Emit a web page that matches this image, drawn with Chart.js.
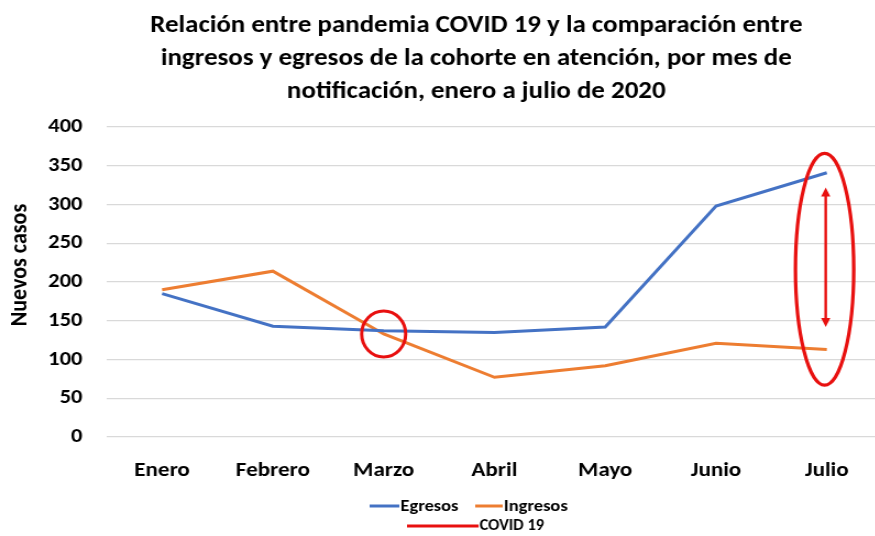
<!DOCTYPE html>
<html>
<head>
<meta charset="utf-8">
<script src="https://cdn.jsdelivr.net/npm/chart.js@4/dist/chart.umd.min.js"></script>
<style>
html,body{margin:0;padding:0;background:#fff;overflow:hidden;}
#wrap{position:relative;width:803px;height:536px;transform:scaleX(1.1);transform-origin:0 0;}
</style>
</head>
<body>
<div id="wrap"><canvas id="c" width="803" height="536"></canvas></div>
<script>
const categories = ['Enero','Febrero','Marzo','Abril','Mayo','Junio','Julio'];
const egresos = [185, 143, 137, 135, 142, 298, 341];
const ingresos = [190, 214, 133, 77, 92, 121, 113];
const seriesNames = ['Egresos','Ingresos','COVID 19'];
const yTicks = [0,50,100,150,200,250,300,350,400];
const titleLines = ['Relación entre pandemia COVID 19 y la comparación entre',
  'ingresos y egresos de la cohorte en atención, por mes de',
  'notificación, enero a julio de 2020'];
const yTitle = 'Nuevos casos';
// annotation anchors (category, value)
const circleMarch = {cat:'Marzo', value:133};
const ellipseJulio = {cat:'Julio', top:366, bottom:67};
const arrowJulio = {cat:'Julio', from:322, to:142};

const FONT = "Carlito, 'Liberation Sans', Arial, sans-serif";
const BLUE = '#4472C4', ORANGE = '#ED7D31', RED = '#E8100F';

const annot = {
  id:'annot',
  afterDatasetsDraw(chart){
    const ctx = chart.ctx, x = chart.scales.x, y = chart.scales.y;
    ctx.save();
    ctx.strokeStyle = RED; ctx.fillStyle = RED;
    // circle at Marzo
    ctx.lineWidth = 3;
    const cx = x.getPixelForValue(categories.indexOf(circleMarch.cat));
    const cy = y.getPixelForValue(circleMarch.value);
    ctx.beginPath(); ctx.ellipse(cx, cy, 20, 23, 0, 0, Math.PI*2); ctx.stroke();
    // ellipse at Julio
    const ex = x.getPixelForValue(categories.indexOf(ellipseJulio.cat)) - 2;
    const et = y.getPixelForValue(ellipseJulio.top), eb = y.getPixelForValue(ellipseJulio.bottom);
    ctx.lineWidth = 3.2;
    ctx.beginPath(); ctx.ellipse(ex, (et+eb)/2, 26.5, (eb-et)/2, 0, 0, Math.PI*2); ctx.stroke();
    // double arrow
    const ax = x.getPixelForValue(categories.indexOf(arrowJulio.cat)) - 1;
    const a1 = y.getPixelForValue(arrowJulio.from), a2 = y.getPixelForValue(arrowJulio.to);
    ctx.lineWidth = 2.4;
    ctx.beginPath(); ctx.moveTo(ax, a1+6); ctx.lineTo(ax, a2-6); ctx.stroke();
    ctx.beginPath(); ctx.moveTo(ax, a1); ctx.lineTo(ax-4.2, a1+9); ctx.lineTo(ax+4.2, a1+9); ctx.closePath(); ctx.fill();
    ctx.beginPath(); ctx.moveTo(ax, a2); ctx.lineTo(ax-4.2, a2-9); ctx.lineTo(ax+4.2, a2-9); ctx.closePath(); ctx.fill();
    ctx.restore();
  },
  afterDraw(chart){
    const ctx = chart.ctx;
    ctx.save();
    // title
    ctx.fillStyle = '#000';
    ctx.font = 'bold 24.5px ' + FONT;
    ctx.textAlign = 'center'; ctx.textBaseline = 'alphabetic';
    titleLines.forEach((t,i)=> ctx.fillText(t, 433, 32 + i*33));
    // y axis title
    ctx.save();
    ctx.translate(18.5, 265); ctx.rotate(-Math.PI/2);
    ctx.textBaseline = 'middle';
    ctx.font = 'bold 22px ' + FONT;
    ctx.fillText(yTitle, 0, 0);
    ctx.restore();
    // legend
    ctx.textBaseline = 'middle';
    ctx.font = 'bold 16.8px ' + FONT;
    ctx.textAlign = 'left';
    const items = [
      {c:BLUE, x1:336, x2:363, ty:506, tx:364, t:seriesNames[0]},
      {c:ORANGE, x1:432, x2:457, ty:506, tx:458, t:seriesNames[1]},
    ];
    items.forEach(it=>{
      ctx.strokeStyle = it.c; ctx.lineWidth = 3;
      ctx.beginPath(); ctx.moveTo(it.x1, it.ty); ctx.lineTo(it.x2, it.ty); ctx.stroke();
      ctx.fillText(it.t, it.tx, it.ty + 1);
    });
    ctx.strokeStyle = RED; ctx.lineWidth = 3;
    ctx.beginPath(); ctx.moveTo(370, 526); ctx.lineTo(435, 526); ctx.stroke();
    ctx.font = 'bold 15px ' + FONT;
    ctx.fillText(seriesNames[2], 436, 526);
    ctx.restore();
  }
};

new Chart(document.getElementById('c'), {
  type:'line',
  data:{
    labels: categories,
    datasets:[
      {label:seriesNames[0], data:egresos, borderColor:BLUE, backgroundColor:BLUE, borderWidth:3, pointRadius:0, tension:0},
      {label:seriesNames[1], data:ingresos, borderColor:ORANGE, backgroundColor:ORANGE, borderWidth:3, pointRadius:0, tension:0}
    ]
  },
  options:{
    responsive:false, animation:false,
    layout:{padding:{top:127, right:1, bottom:44, left:0}},
    plugins:{legend:{display:false}, title:{display:false}, tooltip:{enabled:false}},
    scales:{
      x:{
        offset:true,
        grid:{display:false, drawTicks:false},
        border:{display:false},
        ticks:{padding:21, color:'#000', font:{family:FONT, size:21, weight:'bold'}, maxRotation:0},
        afterFit(s){ s.height = 55; }
      },
      y:{
        min:0, max:400,
        afterBuildTicks(s){ s.ticks = yTicks.map(v=>({value:v})); },
        grid:{color:'#d9d9d9', lineWidth:1.3, drawTicks:false},
        border:{display:false},
        ticks:{padding:22, color:'#000', font:{family:FONT, size:20.5, weight:'bold'}},
        afterFit(s){ s.width = 97; }
      }
    }
  },
  plugins:[annot]
});
</script>
</body>
</html>
